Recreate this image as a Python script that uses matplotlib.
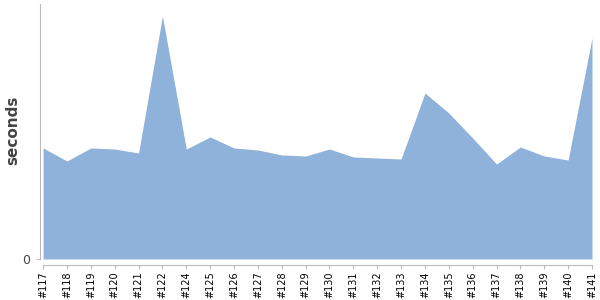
import numpy as np
import matplotlib.pyplot as plt

# build numbers (#123 is missing in the source)
builds = ["#117", "#118", "#119", "#120", "#121", "#122", "#124", "#125",
          "#126", "#127", "#128", "#129", "#130", "#131", "#132", "#133",
          "#134", "#135", "#136", "#137", "#138", "#139", "#140", "#141"]
seconds = [111, 98, 111, 110, 106, 243, 110, 122,
           111, 109, 104, 103, 110, 102, 101, 100,
           166, 146, 121, 95, 112, 103, 99, 221]

fig = plt.figure(figsize=(6, 3), dpi=100)
ax = fig.add_axes([40 / 600, 1 - 259 / 300, 552 / 600, 255 / 300])

# spines first: set_position resets the ticks
for side in ['top', 'right']:
    ax.spines[side].set_visible(False)
ax.spines['bottom'].set_position(('outward', 4))
ax.spines['left'].set_color('#bbbbbb')
ax.spines['bottom'].set_color('#bbbbbb')

x = np.arange(len(builds))
ax.fill_between(x, 0, seconds, color='#8fb2da', linewidth=0)

ax.set_xlim(-0.13, len(builds) - 1)
ax.set_ylim(0, 255)
ax.spines['bottom'].set_bounds(0, len(builds) - 1)

ax.set_xticks(x)
ax.set_xticklabels(builds, rotation=90, fontsize=7, color='black')
ax.set_yticks([0])
ax.set_yticklabels(['0'], fontsize=9, color='#444444')
ax.set_ylabel('seconds', fontsize=11, fontweight='bold', color='#444444',
              va='center')
ax.yaxis.set_label_coords(-0.049, 0.506)

ax.tick_params(axis='x', length=3, color='#bbbbbb', pad=2)
ax.tick_params(axis='y', length=3, color='#bbbbbb', pad=4)

fig.savefig('out.png', dpi=100)
